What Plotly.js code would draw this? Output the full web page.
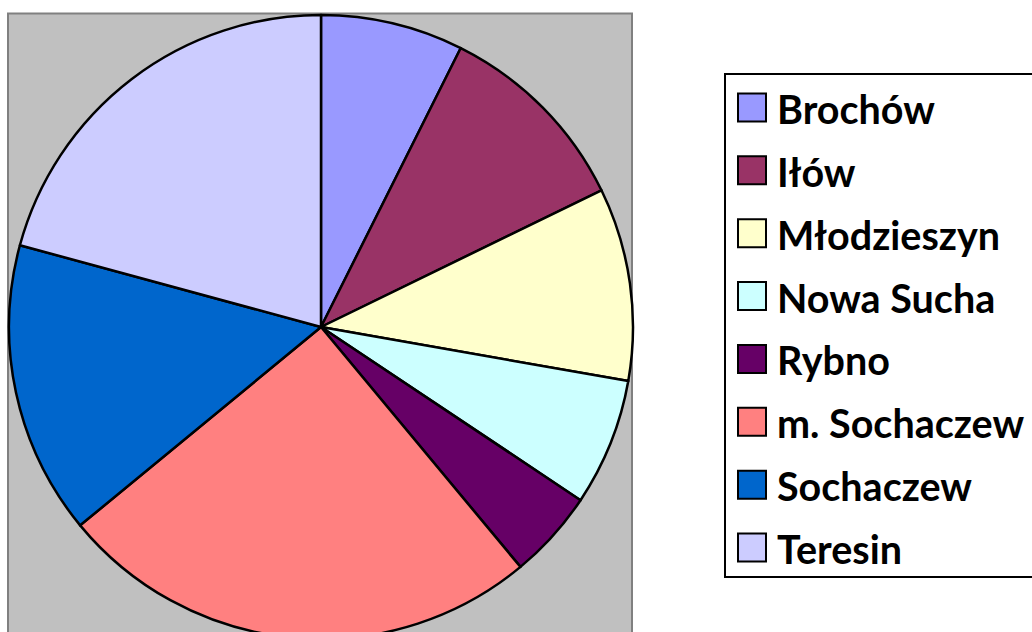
<!DOCTYPE html>
<html>
<head>
<meta charset="utf-8">
<script src="https://cdn.plot.ly/plotly-3.0.1.min.js"></script>
<style>
html, body { margin: 0; padding: 0; overflow: hidden; background: #fff; }
#chart { width: 1032px; height: 660px; }
</style>
</head>
<body>
<div id="chart"></div>
<script>
// Data
const categories = ["Brochów", "Iłów", "Młodzieszyn", "Nowa Sucha", "Rybno", "m. Sochaczew", "Sochaczew", "Teresin"];
const values = [7.4, 10.4, 10.0, 6.6, 4.6, 25.1, 15.2, 20.8];
const colors = ["#9999FF", "#993366", "#FFFFCC", "#CCFFFF", "#660066", "#FF8080", "#0066CC", "#CCCCFF"];

const W = 1032, H = 660;
const px = x => x / W;
const py = y => 1 - y / H;

const cx = 321, cy = 327, R = 312;

const trace = {
  type: "pie",
  labels: categories,
  values: values,
  sort: false,
  direction: "clockwise",
  rotation: 0,
  textinfo: "none",
  hoverinfo: "label+percent",
  marker: { colors: colors, line: { color: "#000000", width: 2.5 } },
  domain: { x: [px(cx - R), px(cx + R)], y: [py(cy + R), py(cy - R)] },
  showlegend: false
};

const shapes = [
  { type: "rect", xref: "paper", yref: "paper", layer: "below",
    x0: px(8), x1: px(632), y0: py(700), y1: py(13.5),
    fillcolor: "#C0C0C0", line: { color: "#808080", width: 2 } },
  { type: "rect", xref: "paper", yref: "paper",
    x0: px(725), x1: px(1045), y0: py(577), y1: py(74),
    fillcolor: "rgba(0,0,0,0)", line: { color: "#000000", width: 2 } }
];
const annotations = [];
const y0 = 107.5, step = 62.86;
categories.forEach((c, i) => {
  const yc = y0 + i * step;
  shapes.push({ type: "rect", xref: "paper", yref: "paper",
    x0: px(738), x1: px(766), y0: py(yc + 14), y1: py(yc - 14),
    fillcolor: colors[i], line: { color: "#000000", width: 2 } });
  annotations.push({ xref: "paper", yref: "paper", x: px(775), y: py(yc + 1),
    xanchor: "left", yanchor: "middle", showarrow: false, text: "<b>" + c + "</b>",
    font: { family: "Lato, 'Open Sans', sans-serif", size: 39.5, color: "#000000" } });
});

const layout = {
  width: W, height: H,
  margin: { l: 0, r: 0, t: 0, b: 0, pad: 0 },
  paper_bgcolor: "#ffffff",
  plot_bgcolor: "#ffffff",
  showlegend: false,
  shapes: shapes,
  annotations: annotations
};

Plotly.newPlot("chart", [trace], layout, { displayModeBar: false, staticPlot: true });
</script>
</body>
</html>
